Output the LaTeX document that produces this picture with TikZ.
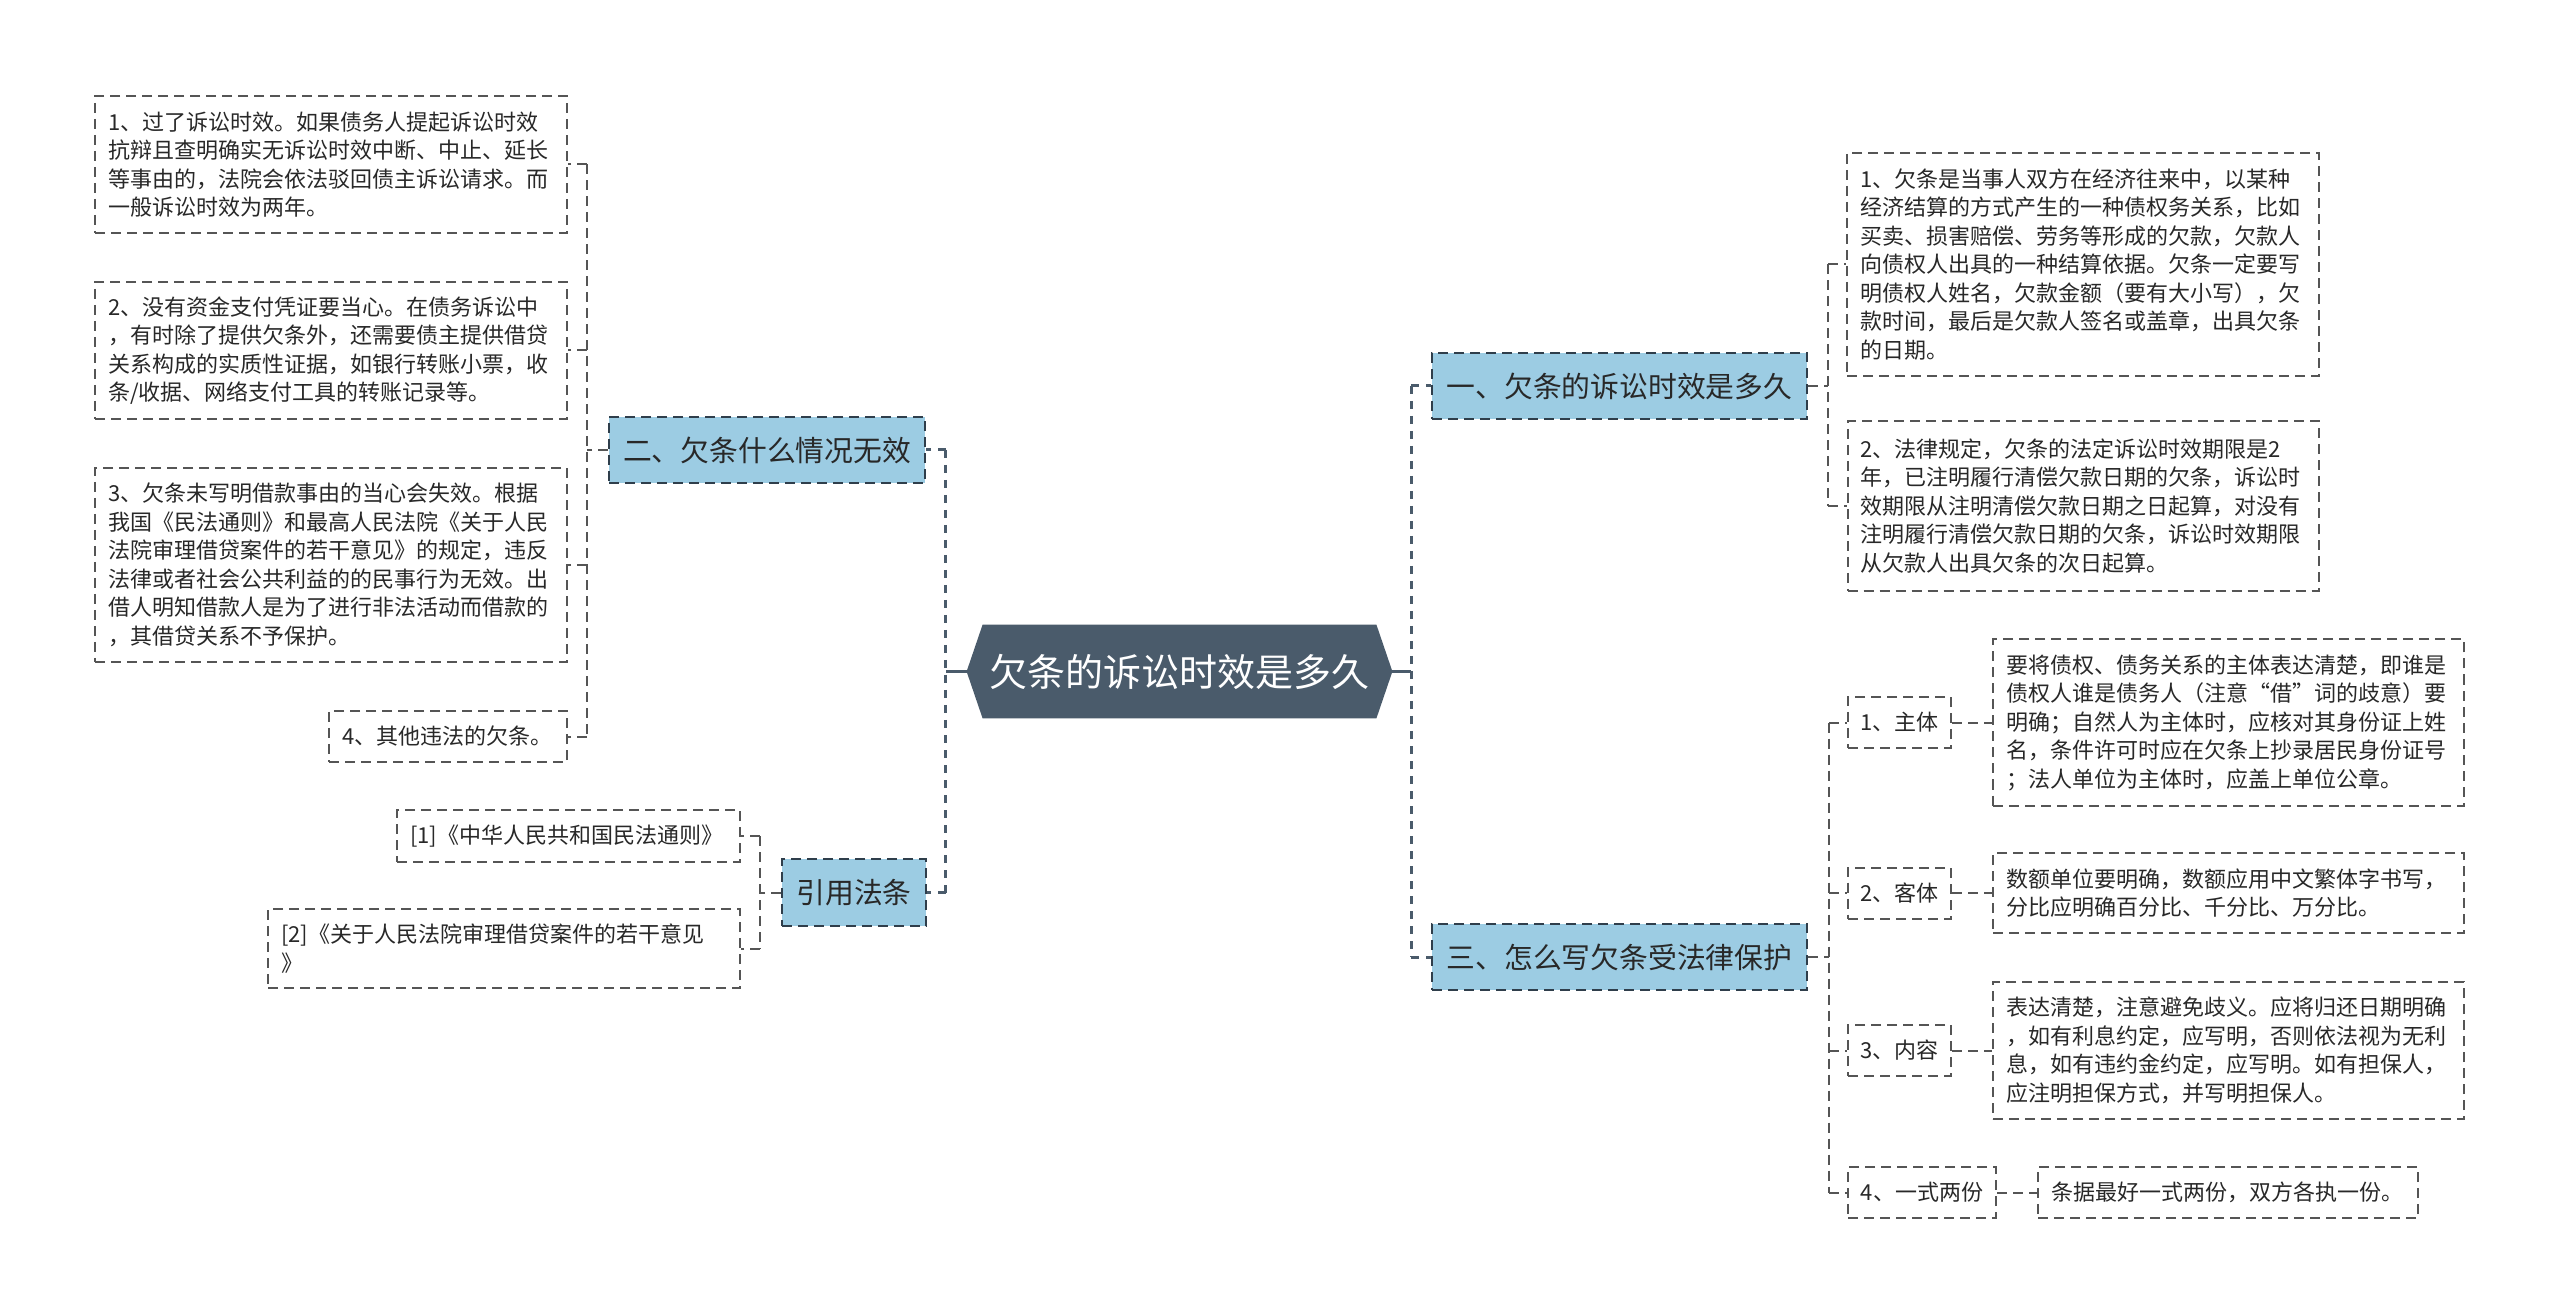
\documentclass[tikz,border=0pt]{standalone}
\usepackage{fontspec}
\setmainfont{Noto Sans CJK SC}
\usetikzlibrary{backgrounds}
\definecolor{hexfill}{RGB}{74,91,107}
\definecolor{lvfill}{RGB}{156,204,227}
\definecolor{lvdraw}{RGB}{47,62,75}
\definecolor{leafdraw}{RGB}{85,85,85}
\definecolor{txt}{RGB}{40,40,40}
\newcommand\leaffont{\fontsize{11pt}{14.25pt}\selectfont}
\newcommand\lvfont{\fontsize{14.4pt}{17pt}\selectfont}
\newcommand\hexfont{\fontsize{19pt}{22pt}\selectfont}
\tikzset{
  leaf/.style={draw=leafdraw, line width=1pt, dash pattern=on 5pt off 3pt, fill=white,
    align=left, inner xsep=6.5pt, inner ysep=0pt, font=\leaffont, text=txt},
  sub/.style={draw=leafdraw, line width=1pt, dash pattern=on 5pt off 3pt, fill=white,
    align=center, inner xsep=0pt, inner ysep=0pt, font=\leaffont, text=txt, minimum height=25.5pt},
  lv/.style={draw=lvdraw, line width=1pt, dash pattern=on 5pt off 3pt, fill=lvfill,
    align=center, inner sep=0pt, font=\lvfont, text=txt, minimum height=33pt},
  hexnode/.style={inner sep=0pt, font=\hexfont, text=white, minimum width=196.5pt, minimum height=46.5pt},
  trunk/.style={draw=hexfill, line width=1.5pt, dash pattern=on 4pt off 3.5pt},
  trunksolid/.style={draw=hexfill, line width=1.5pt},
  conn/.style={draw=leafdraw, line width=1pt, dash pattern=on 5pt off 3pt}
}
\begin{document}
\begin{tikzpicture}[x=0.5pt,y=-0.5pt]
\begin{scope}[on background layer]
\fill[white] (0,0) rectangle (2560,1315);
\end{scope}
\useasboundingbox (0,0) rectangle (2560,1315);

% centre
\node[hexnode] (c) at (1179.5,671.5) {欠条的诉讼时效是多久};
\coordinate (cl) at ([xshift=-8pt]c.west);
\coordinate (cr) at ([xshift=8pt]c.east);
\begin{scope}[on background layer]
\fill[hexfill] (c.north west) -- (c.north east) -- (cr) -- (c.south east) -- (c.south west) -- (cl) -- cycle;
\end{scope}

% level 1
\node[lv, minimum width=158pt] (er) at (767,450) {二、欠条什么情况无效};
\node[lv, minimum width=72pt, minimum height=33.5pt] (yy) at (854,892.5) {引用法条};
\node[lv, minimum width=187.5pt] (yi) at (1619.5,386) {一、欠条的诉讼时效是多久};
\node[lv, minimum width=187.5pt] (san) at (1619.5,957) {三、怎么写欠条受法律保护};

% left leaves
\node[leaf, text width=223pt, minimum height=68.5pt] (L1) at (331,164.5) {1、过了诉讼时效。如果债务人提起诉讼时效\\抗辩且查明确实无诉讼时效中断、中止、延长\\等事由的，法院会依法驳回债主诉讼请求。而\\一般诉讼时效为两年。};
\node[leaf, text width=223pt, minimum height=68.5pt] (L2) at (331,350.5) {2、没有资金支付凭证要当心。在债务诉讼中\\，有时除了提供欠条外，还需要债主提供借贷\\关系构成的实质性证据，如银行转账小票，收\\条/收据、网络支付工具的转账记录等。};
\node[leaf, text width=223pt, minimum height=97pt] (L3) at (331,565) {3、欠条未写明借款事由的当心会失效。根据\\我国《民法通则》和最高人民法院《关于人民\\法院审理借贷案件的若干意见》的规定，违反\\法律或者社会公共利益的的民事行为无效。出\\借人明知借款人是为了进行非法活动而借款的\\，其借贷关系不予保护。};
\node[leaf, text width=106pt, minimum height=25.5pt] (L4) at (448,736.5) {4、其他违法的欠条。};

\node[leaf, text width=158.5pt, minimum height=26pt] (C1) at (568.5,836) {[1]《中华人民共和国民法通则》};
\node[leaf, text width=223pt, minimum height=39.5pt] (C2) at (504,948.5) {[2]《关于人民法院审理借贷案件的若干意见\\》};

% right leaves
\node[leaf, text width=223pt, minimum height=111.5pt] (R1) at (2083,264.5) {1、欠条是当事人双方在经济往来中，以某种\\经济结算的方式产生的一种债权务关系，比如\\买卖、损害赔偿、劳务等形成的欠款，欠款人\\向债权人出具的一种结算依据。欠条一定要写\\明债权人姓名，欠款金额（要有大小写），欠\\款时间，最后是欠款人签名或盖章，出具欠条\\的日期。};
\node[leaf, text width=222.5pt, minimum height=85pt] (R2) at (2083,506) {2、法律规定，欠条的法定诉讼时效期限是2\\年，已注明履行清偿欠款日期的欠条，诉讼时\\效期限从注明清偿欠款日期之日起算，对没有\\注明履行清偿欠款日期的欠条，诉讼时效期限\\从欠款人出具欠条的次日起算。};

\node[sub, minimum width=51.5pt] (S1) at (1899.5,722.5) {1、主体};
\node[sub, minimum width=51.5pt] (S2) at (1899.5,893) {2、客体};
\node[sub, minimum width=51.5pt] (S3) at (1899.5,1050.5) {3、内容};
\node[sub, minimum width=74pt] (S4) at (1922,1192.5) {4、一式两份};

\node[leaf, text width=222.5pt, minimum height=83pt] (D1) at (2228.5,722.5) {要将债权、债务关系的主体表达清楚，即谁是\\债权人谁是债务人（注意“借”词的歧意）要\\明确；自然人为主体时，应核对其身份证上姓\\名，条件许可时应在欠条上抄录居民身份证号\\；法人单位为主体时，应盖上单位公章。};
\node[leaf, text width=222.5pt, minimum height=40pt] (D2) at (2228.5,893) {数额单位要明确，数额应用中文繁体字书写，\\分比应明确百分比、千分比、万分比。};
\node[leaf, text width=222.5pt, minimum height=68.5pt] (D3) at (2228.5,1050.5) {表达清楚，注意避免歧义。应将归还日期明确\\，如有利息约定，应写明，否则依法视为无利\\息，如有违约金约定，应写明。如有担保人，\\应注明担保方式，并写明担保人。};
\node[leaf, text width=177pt, inner xsep=6.5pt, minimum height=25.5pt] (D4) at (2228,1192.5) {条据最好一式两份，双方各执一份。};

% trunk connectors from centre
\coordinate (tl) at ([xshift=-10.5pt]cl);
\coordinate (tr) at ([xshift=9.5pt]cr);
\draw[trunksolid] (cl) -- (tl);
\draw[trunksolid] (cr) -- (tr);
\draw[trunk] (tl |- er.east) -- (tl |- yy.east);
\draw[trunk] (tl |- er.east) -- (er.east);
\draw[trunk] (tl |- yy.east) -- (yy.east);
\draw[trunk] (tr |- yi.west) -- (tr |- san.west);
\draw[trunk] (tr |- yi.west) -- (yi.west);
\draw[trunk] (tr |- san.west) -- (san.west);

% group: 二
\coordinate (ga) at ([xshift=-10.5pt]er.west);
\draw[conn] (er.west) -- (ga);
\draw[conn] (ga |- L1.east) -- (ga |- L4.east);
\foreach \n in {L1,L2,L3,L4} \draw[conn] (ga |- \n.east) -- (\n.east);

% group: 引用法条
\coordinate (gb) at ([xshift=-10.5pt]yy.west);
\draw[conn] (yy.west) -- (gb);
\draw[conn] (gb |- C1.east) -- (gb |- C2.east);
\foreach \n in {C1,C2} \draw[conn] (gb |- \n.east) -- (\n.east);

% group: 一
\coordinate (gc) at ([xshift=10pt]yi.east);
\draw[conn] (yi.east) -- (gc);
\draw[conn] (gc |- R1.west) -- (gc |- R2.west);
\foreach \n in {R1,R2} \draw[conn] (gc |- \n.west) -- (\n.west);

% group: 三
\coordinate (gd) at ([xshift=10.5pt]san.east);
\draw[conn] (san.east) -- (gd);
\draw[conn] (gd |- S1.west) -- (gd |- S4.west);
\foreach \n in {S1,S2,S3,S4} \draw[conn] (gd |- \n.west) -- (\n.west);

% sub to detail
\draw[conn] (S1.east) -- (D1.west);
\draw[conn] (S2.east) -- (D2.west);
\draw[conn] (S3.east) -- (D3.west);
\draw[conn] (S4.east) -- (D4.west);
\end{tikzpicture}
\end{document}
